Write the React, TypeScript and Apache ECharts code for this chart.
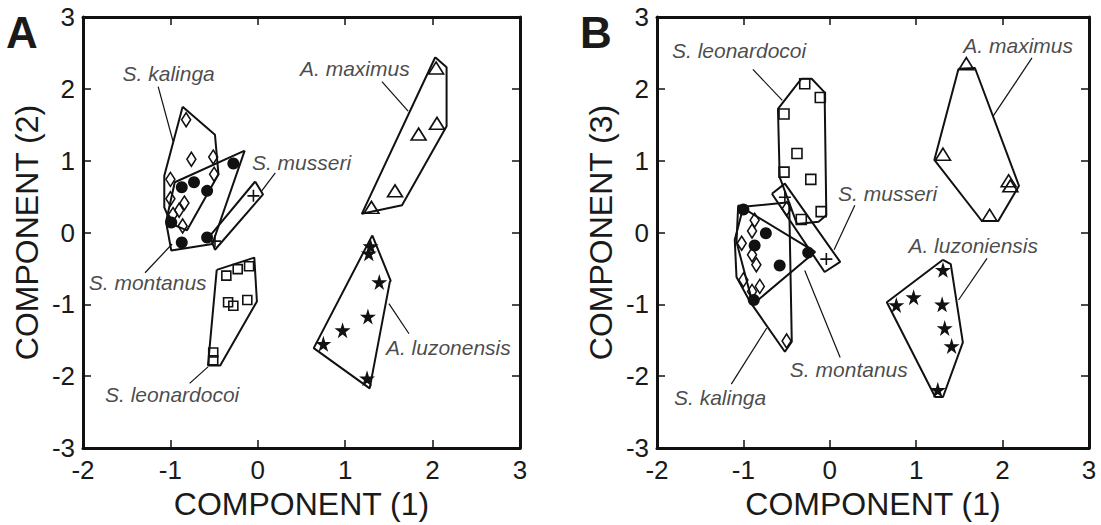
import { useEffect, useRef } from "react";
import * as echarts from "echarts";

// ---------- Panel A: COMPONENT (1) vs COMPONENT (2) ----------
const kalingaA = [[-0.82, 1.57], [-0.76, 1.02], [-0.51, 1.05], [-0.5, 0.81], [-1.0, 0.74], [-1.0, 0.47], [-0.84, 0.41], [-0.9, 0.31], [-0.97, 0.25], [-0.86, 0.09]];
const montanusA = [[-0.28, 0.96], [-0.73, 0.7], [-0.87, 0.63], [-0.58, 0.58], [-0.99, 0.14], [-0.87, -0.14], [-0.58, -0.07]];
const musseriA = [[-0.05, 0.51], [-0.49, -0.12]];
const leonardocoiA = [[-0.36, -0.6], [-0.23, -0.51], [-0.1, -0.47], [-0.34, -0.97], [-0.28, -1.02], [-0.12, -0.94], [-0.51, -1.67], [-0.51, -1.78]];
const maximusA = [[2.04, 2.29], [2.05, 1.52], [1.84, 1.37], [1.57, 0.58], [1.3, 0.35]];
const luzonensisA = [[1.29, -0.19], [1.27, -0.29], [1.39, -0.69], [1.26, -1.17], [0.97, -1.36], [0.75, -1.55], [1.25, -2.03]];

const kalingaHullA = [[-0.86, 1.75], [-0.49, 1.36], [-0.45, 0.81], [-0.81, 0.03], [-0.99, 0.12], [-1.07, 0.35], [-1.07, 0.79]];
const montanusHullA = [[-0.15, 1.14], [-0.95, 0.7], [-1.05, 0.15], [-0.99, -0.25], [-0.52, -0.16]];
const musseriHullA = [[-0.03, 0.71], [0.06, 0.53], [-0.49, -0.24], [-0.55, -0.05]];
const leonardocoiHullA = [[-0.47, -0.52], [-0.04, -0.35], [-0.01, -0.96], [-0.43, -1.85], [-0.57, -1.85]];
const maximusHullA = [[2.03, 2.44], [2.16, 2.3], [2.16, 1.48], [1.65, 0.38], [1.19, 0.26]];
const luzonensisHullA = [[1.31, -0.04], [1.52, -0.67], [1.51, -0.69], [1.28, -2.17], [0.64, -1.61]];

// ---------- Panel B: COMPONENT (1) vs COMPONENT (3) ----------
const leonardocoiB = [[-0.29, 2.07], [-0.11, 1.88], [-0.53, 1.65], [-0.38, 1.1], [-0.53, 0.84], [-0.22, 0.74], [-0.1, 0.29], [-0.33, 0.18]];
const musseriB = [[-0.52, 0.49], [-0.04, -0.37]];
const montanusB = [[-1.0, 0.32], [-0.74, -0.01], [-0.87, -0.18], [-0.25, -0.28], [-0.58, -0.46], [-0.88, -0.94]];
const kalingaB = [[-0.87, 0.17], [-0.9, 0.02], [-1.02, -0.15], [-0.9, -0.31], [-0.85, -0.45], [-1.0, -0.66], [-0.81, -0.75], [-0.9, -0.82], [-0.5, -1.51], [-0.5, 0.33]];
const maximusB = [[1.58, 2.35], [1.31, 1.09], [2.07, 0.72], [2.09, 0.65], [1.85, 0.24]];
const luzonensisB = [[1.31, -0.52], [0.97, -0.9], [0.77, -1.01], [1.3, -1.0], [1.33, -1.33], [1.41, -1.58], [1.25, -2.19]];

const leonardocoiHullB = [[-0.33, 2.14], [-0.21, 2.14], [-0.06, 1.95], [-0.04, 0.24], [-0.13, 0.15], [-0.38, 0.12], [-0.58, 0.77], [-0.6, 1.72]];
const musseriHullB = [[-0.67, 0.54], [-0.52, 0.68], [0.12, -0.41], [-0.06, -0.55]];
const montanusHullB = [[-1.06, 0.38], [-0.17, -0.27], [-0.89, -1.0], [-1.08, -0.13]];
const kalingaHullB = [[-0.47, 0.42], [-0.44, -1.52], [-0.52, -1.66], [-0.92, -0.97], [-1.08, -0.62], [-1.1, -0.1], [-1.0, 0.36]];
const maximusHullB = [[1.49, 2.28], [1.68, 2.29], [2.19, 0.65], [1.95, 0.16], [1.76, 0.16], [1.21, 1.01]];
const luzonensisHullB = [[1.31, -0.38], [1.4, -0.44], [1.54, -1.53], [1.31, -2.29], [1.22, -2.29], [0.66, -0.97]];

// ---------- labels and leader lines (data units) ----------
const labelNamesA = ["S. kalinga", "S. musseri", "S. montanus", "S. leonardocoi", "A. maximus", "A. luzonensis"];
const labelPosA = [[-1.02, 2.21], [0.5, 0.97], [-1.26, -0.69], [-0.98, -2.26], [1.11, 2.29], [2.18, -1.6]];
const leadersA = [
  [[-1.14, 2.03], [-0.97, 1.27]],
  [[0.2, 0.83], [0.045, 0.58]],
  [[-1.29, -0.56], [-0.98, -0.16]],
  [[-0.78, -2.1], [-0.57, -1.87]],
  [[1.42, 2.1], [1.72, 1.69]],
  [[1.5, -0.99], [1.73, -1.41]],
];
const labelNamesB = ["S. leonardocoi", "A. maximus", "S. musseri", "A. luzoniensis", "S. montanus", "S. kalinga"];
const labelPosB = [[-1.05, 2.54], [2.18, 2.61], [0.67, 0.54], [1.66, -0.18], [0.22, -1.91], [-1.27, -2.3]];
const leadersB = [
  [[-0.89, 2.27], [-0.55, 1.84]],
  [[2.34, 2.43], [1.89, 1.62]],
  [[0.29, 0.38], [0.05, -0.24]],
  [[1.82, -0.36], [1.49, -0.94]],
  [[-0.29, -0.53], [0.12, -1.74]],
  [[-0.73, -1.33], [-1.14, -2.11]],
];

const xName = "COMPONENT (1)";
const yNames = ["COMPONENT (2)", "COMPONENT (3)"];
const panelLetters = ["A", "B"];

const FONT = "'Liberation Sans', Arial, Helvetica, sans-serif";
const INK = "#111";
const TEXT = "#1a1a1a";
const STAR = "path://M50,0 L61,35 L98,35 L68,57 L79,91 L50,70 L21,91 L32,57 L2,35 L39,35 Z";
const PLUS = "path://M0,10 L20,10 M10,0 L10,20";

const hollow = { color: "rgba(255,255,255,0)", borderColor: INK, borderWidth: 1.6, opacity: 1 };
const filled = { color: INK, borderColor: INK, borderWidth: 0, opacity: 1 };

function markerSeries(data: number[][], p: number, symbol: string, size: any, style: any) {
  return {
    type: "scatter",
    xAxisIndex: p * 2,
    yAxisIndex: p * 2,
    data,
    symbol,
    symbolSize: size,
    itemStyle: style,
    z: 5,
    silent: true,
  };
}
function hullSeries(hull: number[][], p: number) {
  return {
    type: "line",
    xAxisIndex: p * 2,
    yAxisIndex: p * 2,
    data: [...hull, hull[0]],
    symbol: "none",
    lineStyle: { color: INK, width: 2, opacity: 1 },
    z: 3,
    silent: true,
  };
}
function leaderSeries(seg: number[][], p: number) {
  return {
    type: "line",
    xAxisIndex: p * 2,
    yAxisIndex: p * 2,
    data: seg,
    symbol: "none",
    lineStyle: { color: INK, width: 1.2, opacity: 1 },
    z: 3,
    silent: true,
  };
}
function labelSeries(names: string[], pos: number[][], p: number) {
  return {
    type: "scatter",
    xAxisIndex: p * 2,
    yAxisIndex: p * 2,
    data: names.map((n, i) => ({ name: n, value: pos[i] })),
    symbolSize: 1,
    itemStyle: { color: "rgba(0,0,0,0)" },
    label: {
      show: true,
      position: "inside",
      formatter: (d: any) => d.name,
      fontFamily: FONT,
      fontStyle: "italic",
      fontSize: 21,
      color: TEXT,
    },
    z: 6,
    silent: true,
  };
}

function xAxis(grid: number, pos: string, main: boolean) {
  return {
    type: "value",
    gridIndex: grid,
    position: pos,
    min: -2,
    max: 3,
    interval: 1,
    name: main ? xName : "",
    nameLocation: "middle",
    nameGap: 40,
    nameTextStyle: { fontFamily: FONT, fontSize: 32, color: TEXT },
    axisLine: { show: true, onZero: false, lineStyle: { color: INK, width: 3 } },
    axisTick: { show: true, inside: true, length: 8, lineStyle: { color: INK, width: 1.5 } },
    axisLabel: { show: main, fontFamily: FONT, fontSize: 26, color: TEXT, margin: 9 },
    splitLine: { show: false },
  };
}
function yAxis(grid: number, pos: string, main: boolean) {
  return {
    type: "value",
    gridIndex: grid,
    position: pos,
    min: -3,
    max: 3,
    interval: 1,
    name: main ? yNames[grid] : "",
    nameLocation: "middle",
    nameGap: 40,
    nameTextStyle: { fontFamily: FONT, fontSize: 32, color: TEXT },
    axisLine: { show: true, onZero: false, lineStyle: { color: INK, width: 3 } },
    axisTick: { show: true, inside: true, length: 8, lineStyle: { color: INK, width: 1.5 } },
    axisLabel: { show: main, fontFamily: FONT, fontSize: 26, color: TEXT, margin: 8 },
    splitLine: { show: false },
  };
}

const series: any[] = [
  // panel A
  ...[kalingaHullA, montanusHullA, musseriHullA, leonardocoiHullA, maximusHullA, luzonensisHullA].map((h) => hullSeries(h, 0)),
  ...leadersA.map((s) => leaderSeries(s, 0)),
  markerSeries(kalingaA, 0, "diamond", [9, 14], hollow),
  markerSeries(montanusA, 0, "circle", 12, filled),
  markerSeries(musseriA, 0, PLUS, 12, hollow),
  markerSeries(leonardocoiA, 0, "rect", 9, hollow),
  markerSeries(maximusA, 0, "triangle", [15, 12], hollow),
  markerSeries(luzonensisA, 0, STAR, 16, filled),
  labelSeries(labelNamesA, labelPosA, 0),
  // panel B
  ...[leonardocoiHullB, musseriHullB, montanusHullB, kalingaHullB, maximusHullB, luzonensisHullB].map((h) => hullSeries(h, 1)),
  ...leadersB.map((s) => leaderSeries(s, 1)),
  markerSeries(leonardocoiB, 1, "rect", 10, hollow),
  markerSeries(musseriB, 1, PLUS, 12, hollow),
  markerSeries(montanusB, 1, "circle", 12, filled),
  markerSeries(kalingaB, 1, "diamond", [9, 14], hollow),
  markerSeries(maximusB, 1, "triangle", [15, 12], hollow),
  markerSeries(luzonensisB, 1, STAR, 16, filled),
  labelSeries(labelNamesB, labelPosB, 1),
];

const option: any = {
  animation: false,
  backgroundColor: "#fff",
  grid: [
    { left: 83, top: 17, width: 437, height: 435 },
    { left: 657, top: 17, width: 432, height: 434 },
  ],
  xAxis: [xAxis(0, "bottom", true), xAxis(0, "top", false), xAxis(1, "bottom", true), xAxis(1, "top", false)],
  yAxis: [yAxis(0, "left", true), yAxis(0, "right", false), yAxis(1, "left", true), yAxis(1, "right", false)],
  graphic: panelLetters.map((t, i) => ({
    type: "text",
    left: i === 0 ? 6 : 580,
    top: 10,
    style: { text: t, font: `bold 44px ${FONT}`, fill: TEXT },
  })),
  series,
};

export default function App() {
  const ref = useRef<HTMLDivElement>(null);
  useEffect(() => {
    const chart = echarts.init(ref.current!, null, { renderer: "svg" });
    chart.setOption(option);
    return () => chart.dispose();
  }, []);
  return (
    <div
      ref={ref}
      style={{ position: "fixed", left: 0, top: 0, width: 1101, height: 525, background: "#fff" }}
    />
  );
}
